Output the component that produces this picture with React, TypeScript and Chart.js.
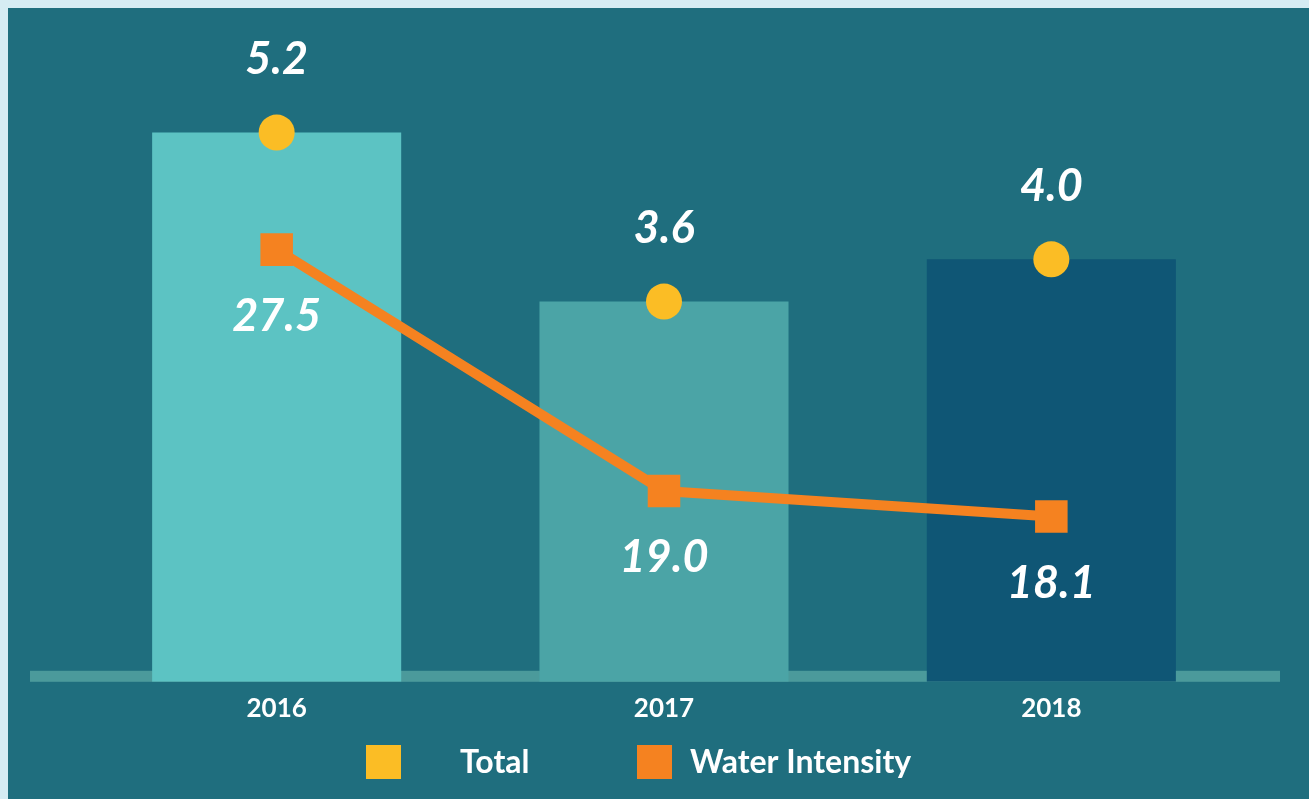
import { useEffect, useRef } from "react";
import { Chart, registerables } from "chart.js";

Chart.register(...registerables);

// ---- data ----
const categories = ["2016", "2017", "2018"];
const totalValues = [5.2, 3.6, 4.0];
const waterIntensityValues = [27.5, 19.0, 18.1];
const totalLabel = "Total";
const waterLabel = "Water Intensity";

// ---- styles ----
const barColors = ["#5cc3c3", "#4ba4a6", "#0f5675"];
const yellow = "#fbbd25";
const orange = "#f58220";
const panelColor = "#1f6e7e";
const outerColor = "#d6ecf3";
const bandColor = "#4b9a9b";
const FONT = "Lato, 'DejaVu Sans', sans-serif";

const backgroundPlugin = {
  id: "panelBackground",
  beforeDraw(chart: any) {
    const { ctx, width, height } = chart;
    ctx.save();
    ctx.fillStyle = outerColor;
    ctx.fillRect(0, 0, width, height);
    ctx.fillStyle = panelColor;
    ctx.fillRect(8, 8, width - 8, height - 8);
    ctx.restore();
  },
};

const bandPlugin = {
  id: "baselineBand",
  beforeDatasetsDraw(chart: any) {
    const { ctx, chartArea } = chart;
    ctx.save();
    ctx.fillStyle = bandColor;
    ctx.fillRect(30, chartArea.bottom - 11, 1250, 11);
    ctx.restore();
  },
};

const valueLabelPlugin = {
  id: "valueLabels",
  afterDatasetsDraw(chart: any) {
    const { ctx } = chart;
    ctx.save();
    ctx.fillStyle = "#ffffff";
    ctx.font = `italic bold 45px ${FONT}`;
    ctx.textAlign = "center";
    ctx.textBaseline = "middle";
    chart.data.datasets.forEach((ds: any, di: number) => {
      if (!ds.labelOffset) return;
      const meta = chart.getDatasetMeta(di);
      meta.data.forEach((pt: any, i: number) => {
        const v = ds.data[i] as number;
        ctx.fillText(v.toFixed(1), pt.x, pt.y + ds.labelOffset);
      });
    });
    ctx.restore();
  },
};

const legendPlugin = {
  id: "customLegend",
  afterDraw(chart: any) {
    const { ctx } = chart;
    const items = chart.data.datasets.filter((d: any) => d.showInLegend);
    const boxX = [366, 637];
    const textX = [460, 690];
    ctx.save();
    ctx.font = `bold 32px ${FONT}`;
    ctx.textBaseline = "middle";
    ctx.textAlign = "left";
    items.forEach((ds: any, i: number) => {
      ctx.fillStyle = ds.legendColor;
      ctx.fillRect(boxX[i], 745, 35, 34);
      ctx.fillStyle = "#ffffff";
      ctx.fillText(ds.label, textX[i], 763);
    });
    ctx.restore();
  },
};

export default function App() {
  const canvasRef = useRef<HTMLCanvasElement | null>(null);

  useEffect(() => {
    const canvas = canvasRef.current;
    if (!canvas) return;
    const chart = new Chart(canvas, {
      type: "bar",
      data: {
        labels: categories,
        datasets: [
          {
            type: "line",
            label: totalLabel,
            data: totalValues,
            yAxisID: "y",
            showLine: false,
            pointStyle: "circle",
            pointRadius: 18,
            pointBackgroundColor: yellow,
            pointBorderWidth: 0,
            borderColor: yellow,
            backgroundColor: yellow,
            order: 1,
            labelOffset: -73,
            showInLegend: true,
            legendColor: yellow,
          } as any,
          {
            type: "line",
            label: waterLabel,
            data: waterIntensityValues,
            yAxisID: "y1",
            borderColor: orange,
            borderWidth: 10,
            tension: 0,
            pointStyle: "rect",
            pointRadius: 23,
            pointBackgroundColor: orange,
            pointBorderWidth: 0,
            backgroundColor: orange,
            order: 2,
            labelOffset: 67,
            showInLegend: true,
            legendColor: orange,
          } as any,
          {
            type: "bar",
            label: "Total (bars)",
            data: totalValues,
            yAxisID: "y",
            backgroundColor: barColors,
            borderWidth: 0,
            categoryPercentage: 1,
            barPercentage: 0.643,
            order: 10,
          } as any,
        ],
      },
      options: {
        responsive: false,
        animation: false,
        events: [],
        layout: {
          padding: { top: 48, left: 83, right: 64, bottom: 64 },
        },
        plugins: {
          legend: { display: false },
          tooltip: { enabled: false },
        },
        scales: {
          x: {
            grid: { display: false, drawTicks: false },
            border: { display: false },
            ticks: {
              color: "#ffffff",
              font: { family: FONT, weight: "bold", size: 26 },
              padding: 11,
            },
          },
          y: { display: false, min: 0, max: 6 },
          y1: { display: false, min: 12.28, max: 34.6 },
        },
      },
      plugins: [backgroundPlugin, bandPlugin, valueLabelPlugin, legendPlugin],
    });
    return () => chart.destroy();
  }, []);

  return (
    <div style={{ position: "fixed", left: 0, top: 0, width: 1309, height: 799 }}>
      <canvas ref={canvasRef} width={1309} height={799} style={{ display: "block" }} />
    </div>
  );
}
